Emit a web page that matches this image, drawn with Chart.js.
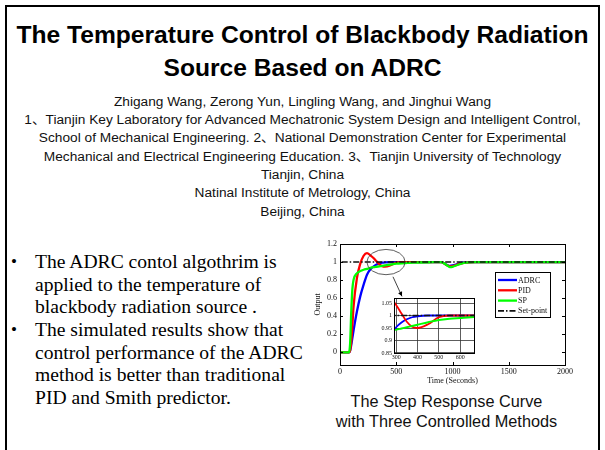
<!DOCTYPE html>
<html>
<head>
<meta charset="utf-8">
<script src="https://cdn.jsdelivr.net/npm/chart.js@4.4.0/dist/chart.umd.min.js"></script>
<style>
  html, body { margin: 0; padding: 0; background: #fff; width: 605px; height: 450px; overflow: hidden; }
  .frame { position: absolute; left: 5px; top: 5px; width: 591px; height: 470px; border: 2px solid #000; }
  .title { position: absolute; left: 0; top: 18px; width: 605px; text-align: center; white-space: nowrap;
    font: bold 24.6px/33px "Liberation Sans", Arial, sans-serif; color: #000; }
  .aff { position: absolute; left: 0; top: 92.5px; width: 605px; text-align: center; white-space: nowrap;
    font: 13.7px/18.2px "Liberation Sans", Arial, sans-serif; color: #111; }
  .aff div { height: 18.4px; }
  .cjk { font-family: "Noto Sans CJK SC", sans-serif; color: #111; line-height: 0; }
  .bullets { position: absolute; left: 0; top: 251px; width: 305px;
    font: 19.6px/22.5px "Liberation Serif", "Times New Roman", serif; color: #000; }
  .item { position: relative; padding-left: 35px; white-space: nowrap; margin-bottom: 0.5px; }
  .item::before { content: "\2022"; position: absolute; left: 11px; top: 0; font-size: 17px; }
  .caption { position: absolute; left: 300px; top: 391px; width: 293px; text-align: center;
    font: 16.3px/20px "Liberation Sans", Arial, sans-serif; color: #111; }
  #mainBox { position: absolute; left: 300px; top: 236px; }
  #insetBox { position: absolute; left: 366px; top: 290px; }
</style>
</head>
<body>
<div class="frame"></div>
<div class="title">The Temperature Control of Blackbody Radiation<br>Source Based on ADRC</div>
<div class="aff">
  <div>Zhigang Wang, Zerong Yun, Lingling Wang, and Jinghui Wang</div>
  <div>1<span class="cjk">、</span>Tianjin Key Laboratory for Advanced Mechatronic System Design and Intelligent Control,</div>
  <div>School of Mechanical Engineering. 2<span class="cjk">、</span>National Demonstration Center for Experimental</div>
  <div>Mechanical and Electrical Engineering Education. 3<span class="cjk">、</span>Tianjin University of Technology</div>
  <div>Tianjin, China</div>
  <div>Natinal Institute of Metrology, China</div>
  <div>Beijing, China</div>
</div>
<div class="bullets">
  <div class="item">The ADRC contol algothrim is<br>applied to the temperature of<br>blackbody radiation source .</div>
  <div class="item">The simulated results show that<br>control performance of the ADRC<br>method is better than traditional<br>PID and Smith predictor.</div>
</div>
<div class="caption">The Step Response Curve<br>with Three Controlled Methods</div>
<div id="mainBox"><canvas id="main" width="285" height="150"></canvas></div>
<div id="insetBox"><canvas id="inset" width="114" height="74"></canvas></div>

<script>
// time axis (seconds) shared by the three controllers
const times = [0, 80, 90, 100, 110, 120, 150, 180, 210, 240, 270, 300, 325, 350, 375, 400, 450, 500,
               550, 600, 650, 700, 800, 900, 950, 975, 1000, 1050, 1100, 1200, 1500, 2000];
const adrc  = [0, 0, 0.02, 0.08, 0.16, 0.24, 0.45, 0.62, 0.75, 0.86, 0.92, 0.953, 0.972, 0.985, 0.993, 0.997, 1.0, 1.0,
               1.0, 1.0, 1.0, 1.0, 1.0, 1.0, 0.97, 0.958, 0.962, 0.98, 0.995, 1.0, 1.0, 1.0];
const pid   = [0, 0, 0.02, 0.12, 0.3, 0.5, 0.82, 0.98, 1.07, 1.1, 1.075, 1.042, 1.008, 0.975, 0.955, 0.95, 0.965, 0.993,
               1.0, 1.0, 1.0, 1.0, 1.0, 1.0, 0.965, 0.952, 0.955, 0.975, 0.992, 1.0, 1.0, 1.0];
const sp    = [0, 0, 0.1, 0.45, 0.7, 0.8, 0.875, 0.9, 0.915, 0.925, 0.935, 0.943, 0.948, 0.953, 0.958, 0.963, 0.973, 0.982,
               0.987, 0.99, 0.993, 0.995, 0.998, 1.0, 0.965, 0.945, 0.948, 0.97, 0.99, 1.0, 1.0, 1.0];
// set-point step
const setTimes  = [0, 0, 2000];
const setValues = [0, 1, 1];

const seriesNames  = ['ADRC', 'PID', 'SP', 'Set-point'];
const seriesColors = ['#0000ff', '#ff0000', '#00ff00', '#111111'];

const xTicksMain = { min: 0, max: 2000, step: 500 };
const yTicksMain = { min: -0.14, max: 1.2, step: 0.2 };
const xTicksInset = { min: 290, max: 665, step: 100 };
const yTicksInset = { min: 0.85, max: 1.07, step: 0.05 };

// zoomed region marked on the main plot (data units)
const zoomMark = { t: 409, v: 1.0, rt: 170, rv: 0.14 };
const zoomArrow = { t0: 471, v0: 0.837, t1: 551, v1: 0.62 };

const serif = '"Liberation Serif", "Times New Roman", serif';

function pts(xs, ys) { return xs.map((x, i) => ({ x: x, y: ys[i] })); }

function makeDatasets(width) {
  const vals = [adrc, pid, sp];
  const ds = vals.map((v, i) => ({
    label: seriesNames[i], data: pts(times, v), borderColor: seriesColors[i],
    borderWidth: width, pointRadius: 0, cubicInterpolationMode: 'monotone', order: 3 - i
  }));
  ds.push({
    label: seriesNames[3], data: pts(setTimes, setValues), borderColor: seriesColors[3],
    borderWidth: width * 0.7, borderDash: [6, 2, 1.5, 2], pointRadius: 0, tension: 0, order: 0
  });
  return ds;
}

// box around the plot with MATLAB-like inward ticks
const boxPlugin = {
  id: 'box',
  afterDraw(chart, args, opts) {
    const { ctx, chartArea: a, scales } = chart;
    ctx.save();
    ctx.strokeStyle = '#000';
    ctx.lineWidth = 1;
    ctx.strokeRect(a.left + 0.5, a.top + 0.5, a.right - a.left, a.bottom - a.top);
    if (opts.ticks) {
      const L = opts.ticks;
      ctx.beginPath();
      scales.x.ticks.forEach(t => {
        const px = Math.round(scales.x.getPixelForValue(t.value)) + 0.5;
        ctx.moveTo(px, a.bottom); ctx.lineTo(px, a.bottom - L);
        ctx.moveTo(px, a.top); ctx.lineTo(px, a.top + L);
      });
      scales.y.ticks.forEach(t => {
        const py = Math.round(scales.y.getPixelForValue(t.value)) + 0.5;
        ctx.moveTo(a.left, py); ctx.lineTo(a.left + L, py);
        ctx.moveTo(a.right, py); ctx.lineTo(a.right - L, py);
      });
      ctx.stroke();
    }
    ctx.restore();
  }
};

// legend box + zoom ellipse and arrow
const decoPlugin = {
  id: 'deco',
  afterDraw(chart) {
    const { ctx, chartArea: a, scales: { x, y } } = chart;
    ctx.save();
    // ellipse
    const cx = x.getPixelForValue(zoomMark.t), cy = y.getPixelForValue(zoomMark.v);
    const rx = x.getPixelForValue(zoomMark.t + zoomMark.rt) - cx;
    const ry = cy - y.getPixelForValue(zoomMark.v + zoomMark.rv);
    ctx.strokeStyle = '#333';
    ctx.lineWidth = 0.8;
    ctx.beginPath();
    ctx.ellipse(cx, cy, rx, ry, 0, 0, Math.PI * 2);
    ctx.stroke();
    // arrow
    const x0 = x.getPixelForValue(zoomArrow.t0), y0 = y.getPixelForValue(zoomArrow.v0);
    const x1 = x.getPixelForValue(zoomArrow.t1), y1 = y.getPixelForValue(zoomArrow.v1);
    ctx.strokeStyle = '#111';
    ctx.beginPath(); ctx.moveTo(x0, y0); ctx.lineTo(x1, y1); ctx.stroke();
    const ang = Math.atan2(y1 - y0, x1 - x0);
    ctx.fillStyle = '#000';
    ctx.beginPath();
    ctx.moveTo(x1, y1);
    ctx.lineTo(x1 - 5 * Math.cos(ang - 0.45), y1 - 5 * Math.sin(ang - 0.45));
    ctx.lineTo(x1 - 5 * Math.cos(ang + 0.45), y1 - 5 * Math.sin(ang + 0.45));
    ctx.closePath(); ctx.fill();
    // legend
    const lx = a.right - 70, ly = a.top + 28, lw = 55, lh = 45;
    ctx.fillStyle = '#fff';
    ctx.fillRect(lx, ly, lw, lh);
    ctx.strokeStyle = '#000'; ctx.lineWidth = 1;
    ctx.strokeRect(lx + 0.5, ly + 0.5, lw, lh);
    ctx.font = '8px ' + serif;
    ctx.textBaseline = 'middle';
    chart.data.datasets.forEach((ds, i) => {
      const ry2 = ly + 8 + i * 10.3;
      ctx.strokeStyle = ds.borderColor;
      ctx.lineWidth = ds.borderWidth;
      ctx.setLineDash(ds.borderDash || []);
      ctx.beginPath(); ctx.moveTo(lx + 3, ry2); ctx.lineTo(lx + 22, ry2); ctx.stroke();
      ctx.setLineDash([]);
      ctx.fillStyle = '#111';
      ctx.fillText(ds.label, lx + 23, ry2 + 0.5);
    });
    ctx.restore();
  }
};

const fmt = v => String(Math.round(v * 100) / 100);
const noSidePad = s => { s.paddingLeft = 0; s.paddingRight = 0; };

new Chart(document.getElementById('main'), {
  type: 'line',
  data: { datasets: makeDatasets(2.3) },
  options: {
    responsive: false, animation: false, events: [],
    layout: { padding: { top: 8, right: 20, left: 0, bottom: 0 } },
    plugins: { legend: { display: false }, tooltip: { enabled: false }, box: { ticks: 3 } },
    scales: {
      x: {
        type: 'linear', min: xTicksMain.min, max: xTicksMain.max,
        ticks: { stepSize: xTicksMain.step, includeBounds: false, font: { family: serif, size: 8 }, color: '#111',
                 padding: 2, maxRotation: 0, callback: fmt },
        grid: { display: false, drawTicks: false }, border: { display: false },
        title: { display: true, text: 'Time (Seconds)', font: { family: serif, size: 8 }, color: '#111', padding: 0 },
        afterFit: s => { s.height = 21; noSidePad(s); }
      },
      y: {
        min: yTicksMain.min, max: yTicksMain.max,
        ticks: { stepSize: yTicksMain.step, includeBounds: false, font: { family: serif, size: 8 }, color: '#111',
                 padding: 3, callback: fmt },
        grid: { display: false, drawTicks: false }, border: { display: false },
        title: { display: true, text: 'Output', font: { family: serif, size: 8 }, color: '#111', padding: { top: 13, bottom: 0 } },
        afterFit: s => { s.width = 40; }
      }
    }
  },
  plugins: [boxPlugin, decoPlugin]
});

new Chart(document.getElementById('inset'), {
  type: 'line',
  data: { datasets: makeDatasets(1.8) },
  options: {
    responsive: false, animation: false, events: [],
    layout: { padding: { top: 8, right: 6, left: 0, bottom: 0 } },
    plugins: { legend: { display: false }, tooltip: { enabled: false }, box: { ticks: 0 } },
    scales: {
      x: {
        type: 'linear', min: xTicksInset.min, max: xTicksInset.max,
        ticks: { stepSize: xTicksInset.step, includeBounds: false, font: { family: serif, size: 6 }, color: '#111',
                 padding: 1, maxRotation: 0, callback: fmt },
        grid: { color: '#333', lineWidth: 0.8, drawTicks: false }, border: { display: false },
        afterFit: s => { s.height = 11; noSidePad(s); }
      },
      y: {
        min: yTicksInset.min, max: yTicksInset.max,
        ticks: { stepSize: yTicksInset.step, includeBounds: false, font: { family: serif, size: 6 }, color: '#111',
                 padding: 2, callback: fmt },
        grid: { color: '#333', lineWidth: 0.8, drawTicks: false }, border: { display: false },
        afterFit: s => { s.width = 28; }
      }
    }
  },
  plugins: [boxPlugin]
});
</script>
</body>
</html>
